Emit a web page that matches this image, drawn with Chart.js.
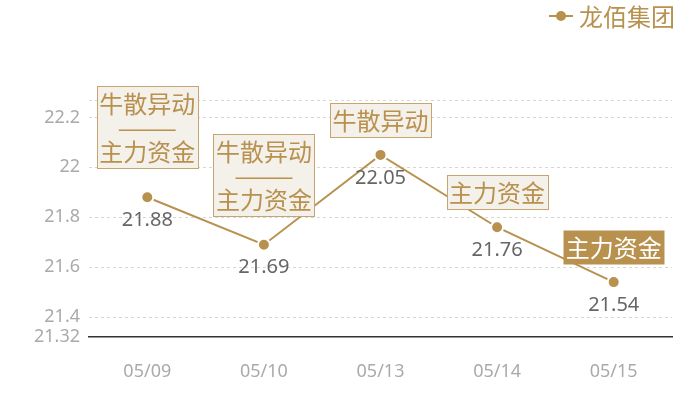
<!DOCTYPE html>
<html>
<head>
<meta charset="utf-8">
<script src="https://cdn.jsdelivr.net/npm/chart.js@4"></script>
<style>
	html, body { margin:0; padding:0; background:#fff; }
	#wrap { width:700px; height:400px; }
</style>
</head>
<body>
<div id="wrap"><canvas id="myChart" width="700" height="400"></canvas></div>
<script>
// data
var dates = ['05/09', '05/10', '05/13', '05/14', '05/15'];
var prices = [21.88, 21.69, 22.05, 21.76, 21.54];
var notes = ['牛散异动\n———\n主力资金', '牛散异动\n———\n主力资金', '牛散异动', '主力资金', '主力资金'];
var noteFilled = [false, false, false, false, true];
var yTicks = [21.32, 21.4, 21.6, 21.8, 22, 22.2];
var yMax = 22.27;
var seriesName = '龙佰集团';

var gold = '#b8914f';
var cjk = '"Noto Sans CJK SC", "Noto Sans", sans-serif';

// labels under points + note boxes + legend
var extras = {
	id: 'extras',
	afterDatasetsDraw: function(chart){
		var ctx = chart.ctx;
		var meta = chart.getDatasetMeta(0);
		ctx.save();
		// value labels
		ctx.font = '20px "Noto Sans", sans-serif';
		ctx.fillStyle = '#666';
		ctx.textAlign = 'center';
		ctx.textBaseline = 'middle';
		meta.data.forEach(function(pt, i){
			ctx.fillText(prices[i].toFixed(2), pt.x, pt.y + 23);
		});
		// note boxes
		ctx.font = '24px ' + cjk;
		var lh = 24;
		meta.data.forEach(function(pt, i){
			var lines = notes[i].split('\n');
			var w = 0;
			lines.forEach(function(l){ w = Math.max(w, ctx.measureText(l).width); });
			w = w + 5;
			var h = lines.length * lh + 10;
			var gap = lines.length > 1 ? 29 : 18;
			var bx = Math.round(pt.x - w / 2) + 0.5;
			var by = Math.round(pt.y - gap - h) + 0.5;
			if (noteFilled[i]) {
				ctx.fillStyle = gold;
				ctx.fillRect(bx, by, w, h);
				ctx.fillStyle = '#fff';
			} else {
				ctx.fillStyle = '#f4f0ea';
				ctx.fillRect(bx, by, w, h);
				ctx.strokeStyle = '#c8a46e';
				ctx.lineWidth = 1;
				ctx.strokeRect(bx, by, w, h);
				ctx.fillStyle = gold;
			}
			lines.forEach(function(l, k){
				ctx.fillText(l, pt.x, by + 5 + lh / 2 + k * lh);
			});
		});
		// legend
		ctx.strokeStyle = gold;
		ctx.lineWidth = 2;
		ctx.beginPath();
		ctx.moveTo(549, 16);
		ctx.lineTo(573, 16);
		ctx.stroke();
		ctx.beginPath();
		ctx.arc(561, 16, 5, 0, Math.PI * 2);
		ctx.fillStyle = gold;
		ctx.fill();
		ctx.textAlign = 'left';
		ctx.font = '24px ' + cjk;
		ctx.fillText(seriesName, 579, 17);
		ctx.restore();
	}
};

var ctx = document.getElementById('myChart').getContext('2d');
var chart = new Chart(ctx, {
	type: 'line',
	data: {
		labels: dates,
		datasets: [{
			label: seriesName,
			data: prices,
			borderColor: gold,
			borderWidth: 2,
			backgroundColor: gold,
			pointBackgroundColor: gold,
			pointBorderColor: '#fff',
			pointBorderWidth: 2,
			pointRadius: 6,
			tension: 0
		}]
	},
	options: {
		responsive: false,
		animation: false,
		layout: { padding: { top: 100, right: 28, left: 0, bottom: 0 } },
		plugins: {
			legend: { display: false },
			tooltip: { enabled: false }
		},
		scales: {
			x: {
				offset: true,
				grid: { display: false, drawTicks: false },
				border: { display: true, color: '#333', width: 1.5 },
				ticks: { color: '#aaa', font: { size: 18, family: '"Noto Sans", sans-serif' }, padding: 24 },
				afterFit: function(s){ s.height = 63; }
			},
			y: {
				min: yTicks[0],
				max: yMax,
				afterBuildTicks: function(s){
					s.ticks = yTicks.concat([yMax]).map(function(v){ return { value: v }; });
				},
				afterFit: function(s){ s.width = 89; },
				border: { display: false, dash: [3, 3] },
				grid: {
					drawTicks: false,
					color: function(c){ return c.tick && c.tick.value === yTicks[0] ? 'rgba(0,0,0,0)' : '#d6d6d6'; }
				},
				ticks: {
					color: '#aaa',
					padding: 9,
					font: { size: 18, family: '"Noto Sans", sans-serif' },
					callback: function(v){ return v === yMax ? '' : String(v); }
				}
			}
		}
	},
	plugins: [extras]
});
</script>
</body>
</html>
